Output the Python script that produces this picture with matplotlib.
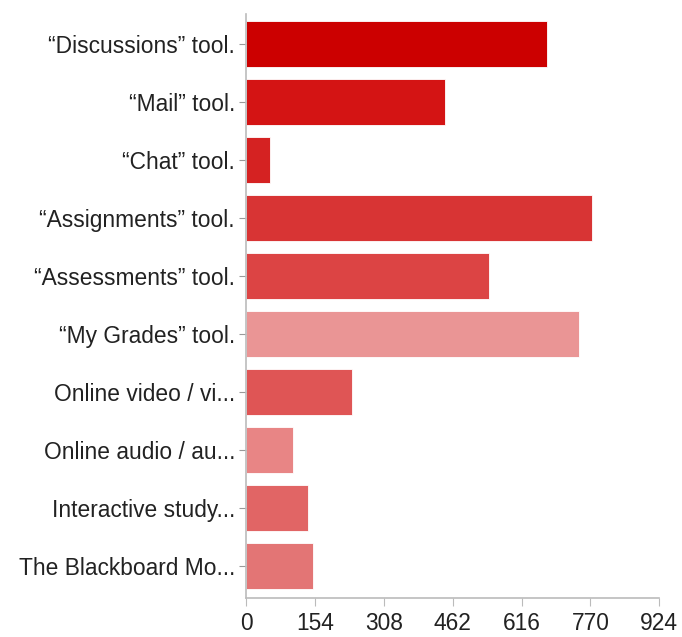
import matplotlib
matplotlib.use("Agg")
import matplotlib.pyplot as plt

categories = ["“Discussions” tool.", "“Mail” tool.", "“Chat” tool.", "“Assignments” tool.",
              "“Assessments” tool.", "“My Grades” tool.", "Online video / vi...",
              "Online audio / au...", "Interactive study...", "The Blackboard Mo..."]
values = [672, 444, 54, 774, 543, 744, 236, 105, 139, 149]
colors = ["#CC0000", "#D41414", "#D52222", "#D83434", "#DC4444", "#EA9595",
          "#DF5555", "#E88585", "#E16565", "#E37575"]
xticks = [0, 154, 308, 462, 616, 770, 924]

plt.rcParams['font.family'] = ['Liberation Sans', 'DejaVu Sans']
fig = plt.figure(figsize=(6.82, 6.37), dpi=100)
ax = fig.add_axes([0.3607, 0.0612, 0.606, 0.9168])
y = list(range(len(categories)))
ax.barh(y, values, height=0.79, color=colors, edgecolor="white", linewidth=0.6)
ax.set_xlim(0, 924)
ax.set_ylim(9.55, -0.52)
ax.set_yticks(y)
ax.set_yticklabels(categories, fontsize=16.4, color="#222222")
ax.set_xticks(xticks)
ax.set_xticklabels([str(t) for t in xticks], fontsize=16.4, color="#222222")
for s in ["top", "right"]:
    ax.spines[s].set_visible(False)
for s in ["left", "bottom"]:
    ax.spines[s].set_color("#BBBBBB")
    ax.spines[s].set_linewidth(1.2)
ax.tick_params(axis="y", length=5, color="#999999", pad=3)
ax.tick_params(axis="x", length=6, color="#BBBBBB", pad=4)
fig.savefig("out.png", dpi=100)
